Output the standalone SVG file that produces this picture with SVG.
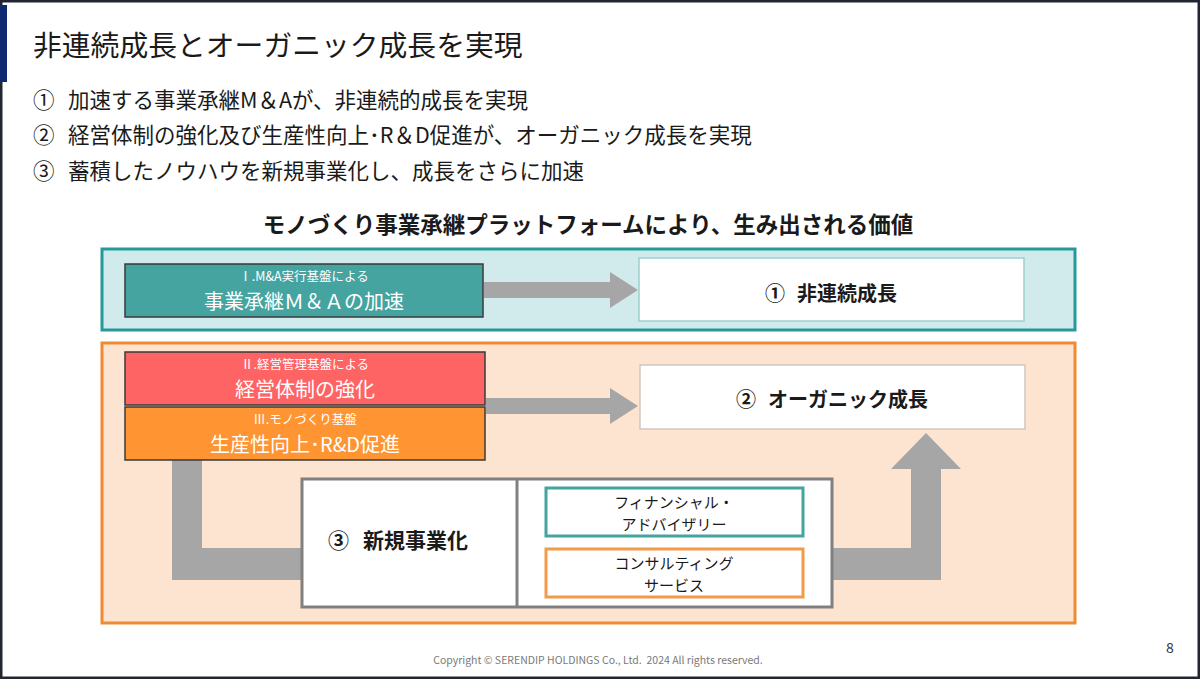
<svg xmlns="http://www.w3.org/2000/svg" width="1200" height="679" viewBox="0 0 1200 679">
<style>
text{font-family:"Noto Sans CJK JP","Noto Sans",sans-serif;}
.blk{fill:#1a1a1a;}
.wt{fill:#ffffff;text-anchor:middle;}
.ct{text-anchor:middle;fill:#1a1a1a;}
.arrow{fill:#a6a6a6;}
.node{stroke:#3a3a3a;stroke-width:1.5;}
.sub{font-size:12.5px;}
.main{font-size:20px;}
.box2{font-size:15px;}
</style>
<rect x="0" y="0" width="1200" height="679" fill="#ffffff"/>
<rect x="1" y="1" width="1198" height="677" fill="none" stroke="#222630" stroke-width="3"/>
<rect x="0" y="5" width="7" height="77" fill="#0d2a6e"/>
<text x="33" y="56" font-size="28.8" class="blk">非連続成長とオーガニック成長を実現</text>
<text x="33" y="108" font-size="21.5" class="blk">①</text>
<text x="68" y="108" font-size="21.5" class="blk">加速する事業承継M＆Aが、非連続的成長を実現</text>
<text x="33" y="143" font-size="21.5" class="blk">②</text>
<text x="68" y="143" font-size="21.5" class="blk">経営体制の強化及び生産性向上･R＆D促進が、オーガニック成長を実現</text>
<text x="33" y="179" font-size="21.5" class="blk">③</text>
<text x="68" y="179" font-size="21.5" class="blk">蓄積したノウハウを新規事業化し、成長をさらに加速</text>
<text x="588" y="233" font-size="22.5" font-weight="bold" class="ct">モノづくり事業承継プラットフォームにより、生み出される価値</text>

<g id="panel-nonlinear">
<rect x="102" y="249" width="973" height="81" fill="#d1ebec" stroke="#26999a" stroke-width="3"/>
</g>
<g id="panel-organic">
<rect x="102" y="343" width="973" height="280" fill="#fde4d1" stroke="#ef8a34" stroke-width="3"/>
</g>

<g id="connectors">
<polygon class="arrow" points="484,282 610,282 610,272 638,290 610,308 610,298 484,298"/>
<polygon class="arrow" points="486,398 610,398 610,388 638,406 610,424 610,414 486,414"/>
<polygon class="arrow" points="172,460 202,460 202,548 302,548 302,580 172,580"/>
<polygon class="arrow" points="832,548 911,548 911,469 891,469 926,433 961,469 941,469 941,580 832,580"/>
</g>

<g id="node-ma">
<rect class="node" x="125" y="264" width="358" height="53" fill="#45a3a0"/>
<text x="304" y="281" class="wt sub">Ⅰ.M&amp;A実行基盤による</text>
<text x="304" y="309" class="wt main">事業承継Ｍ＆Ａの加速</text>
</g>
<g id="node-mgmt">
<rect class="node" x="125" y="352" width="360" height="53" fill="#ff6464"/>
<text x="305" y="369" class="wt sub">Ⅱ.経営管理基盤による</text>
<text x="305" y="397" class="wt main">経営体制の強化</text>
</g>
<g id="node-mono">
<rect class="node" x="125" y="407" width="360" height="53" fill="#ff9432"/>
<text x="305" y="424" class="wt sub">Ⅲ.モノづくり基盤</text>
<text x="305" y="452" class="wt main">生産性向上･R&amp;D促進</text>
</g>
<g id="node-result1">
<rect x="639" y="258" width="385" height="63" fill="#ffffff" stroke="#9ccfcf" stroke-width="1.5"/>
<text x="831" y="301" font-size="20" font-weight="bold" class="ct">①<tspan dx="12">非連続成長</tspan></text>
</g>
<g id="node-result2">
<rect x="640" y="365" width="385" height="64" fill="#ffffff" stroke="#cfc6c0" stroke-width="1.5"/>
<text x="832" y="407" font-size="20" font-weight="bold" class="ct">②<tspan dx="12">オーガニック成長</tspan></text>
</g>
<g id="node-newbiz">
<rect x="302" y="479" width="530" height="128" fill="#ffffff" stroke="#808080" stroke-width="3"/>
<line x1="517" y1="479" x2="517" y2="607" stroke="#808080" stroke-width="3"/>
<text x="328" y="548" font-size="21" font-weight="bold" class="blk">③<tspan dx="14">新規事業化</tspan></text>
</g>
<g id="node-fa">
<rect x="546" y="488" width="257" height="48" fill="#ffffff" stroke="#45a3a0" stroke-width="3"/>
<text x="674" y="508" class="ct box2">フィナンシャル・</text>
<text x="674" y="530" class="ct box2">アドバイザリー</text>
</g>
<g id="node-consult">
<rect x="546" y="549" width="257" height="48" fill="#ffffff" stroke="#f39a4a" stroke-width="3"/>
<text x="674" y="569" class="ct box2">コンサルティング</text>
<text x="674" y="591" class="ct box2">サービス</text>
</g>

<text x="598" y="664" font-size="10.5" fill="#7a7a7a" text-anchor="middle" xml:space="preserve">Copyright © SERENDIP HOLDINGS Co., Ltd.  2024 All rights reserved.</text>
<text x="1170" y="653" font-size="14" fill="#333333" text-anchor="middle">8</text>
</svg>
